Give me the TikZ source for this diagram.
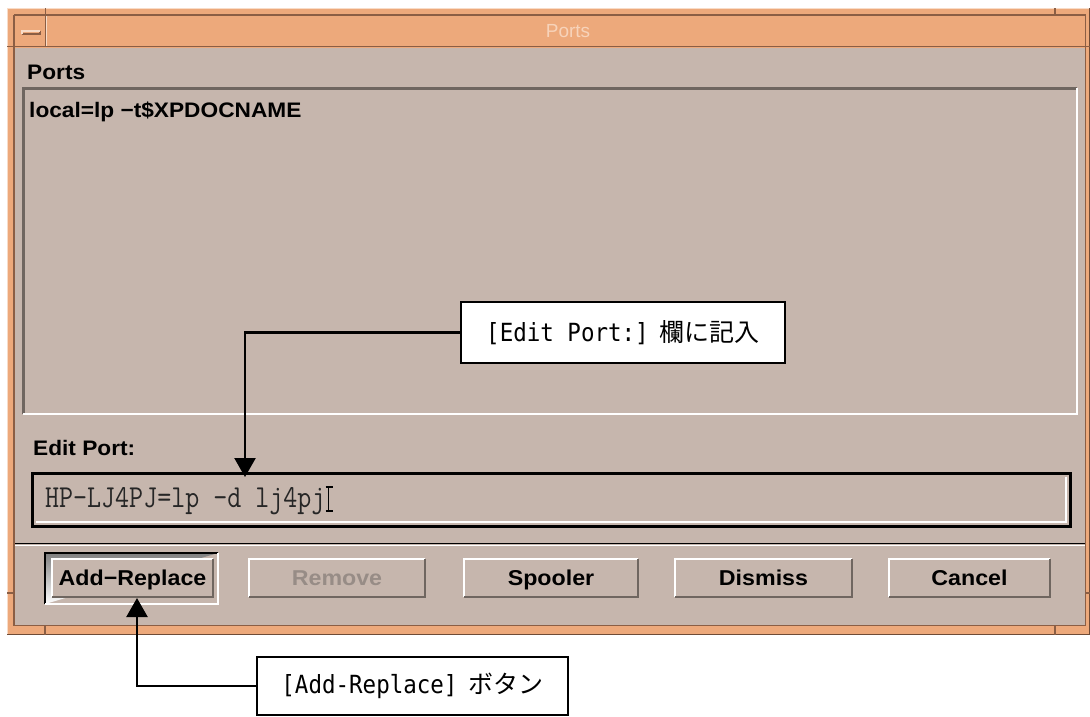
\documentclass[tikz,border=0pt]{standalone}
\usepackage{fontspec}
\setmainfont{Liberation Sans}
\newfontfamily\uifont[FakeStretch=1.08]{Liberation Sans}
\newfontfamily\fieldfont[FakeStretch=0.85]{Latin Modern Mono}
\newfontfamily\jpfont{Noto Sans CJK JP}
\newfontfamily\calloutmono[FakeStretch=0.9]{DejaVu Sans Mono}
\usetikzlibrary{arrows.meta}

\definecolor{panel}{HTML}{C6B6AD}
\definecolor{frameorange}{HTML}{EDA97B}
\definecolor{framedark}{HTML}{8B5E44}
\definecolor{framelight}{HTML}{F8DCC8}
\definecolor{shade}{HTML}{6F6660}
\definecolor{greytext}{HTML}{978C86}
\definecolor{titletext}{HTML}{F7D3BA}

\tikzset{
  hi/.style={draw=white, line width=2pt},
  lo/.style={draw=shade, line width=2pt},
  frline/.style={draw=framedark, line width=1.5pt},
  uilabel/.style={font=\uifont\bfseries\fontsize{21}{24}\selectfont, inner sep=0pt, anchor=base west},
  btn/.style={fill=panel, minimum height=38pt, inner sep=0pt, outer sep=0pt,
    text height=15pt, text depth=1pt, font=\uifont\bfseries\fontsize{21.5}{24}\selectfont, text=black},
  callout/.style={draw=black, line width=2pt, fill=white, inner sep=0pt, outer sep=0pt,
    font=\fontsize{25}{28}\selectfont},
  conn/.style={line width=2.4pt, -{Triangle[length=19pt,width=21pt]}},
}

\begin{document}
\begin{tikzpicture}[x=1pt, y=-1pt]
\useasboundingbox (0,0) rectangle (1090,716);
\clip (0,0) rectangle (1090,716);
\fill[white] (0,0) rectangle (1090,716);

% window frame
\fill[frameorange] (7,8) rectangle (1090,635);
\draw[framelight, line width=1.5pt] (7.5,635) -- (7.5,8.5) -- (1090,8.5);
\draw[frline] (14,15) -- (1085.5,15);
\draw[frline] (14,15) -- (14,626);
\draw[frline] (1085.5,15) -- (1085.5,626);
\draw[draw=framedark!80!black, line width=1.5pt] (7,634.3) -- (1090,634.3);
\draw[draw=framedark!80!black, line width=1.2pt] (1089.4,8) -- (1089.4,635);
% resize corner marks
\draw[frline] (45.5,8) -- (45.5,15) (1055,8) -- (1055,15)
  (45,626) -- (45,635) (1055,626) -- (1055,635)
  (7,46.5) -- (14,46.5) (7,593) -- (14,593)
  (1085,46.5) -- (1090,46.5) (1085,593) -- (1090,593);

% title bar
\draw[frline] (14,46.5) -- (1085.5,46.5);
\draw[frline] (45.5,15) -- (45.5,46.5);
\draw[framelight, line width=1pt] (46.5,16) -- (46.5,46);
\draw[framedark, line width=1.2pt] (22,34) -- (40,34) -- (40,31);
\draw[framelight, line width=1.2pt] (22,34) -- (22,31) -- (40,31);
\node[font=\fontsize{19}{22}\selectfont, text=titletext, inner sep=0pt] (titleTxt) at (568,31) {Ports};

% main panel
\fill[panel] (15,47.5) rectangle (1085,625.5);
\draw[framedark, line width=1pt] (15,625.5) -- (1085,625.5);

% port list
\node[uilabel] (portsLbl) at (27,79) {Ports};
\node[minimum width=1054pt, minimum height=326pt, inner sep=0pt, outer sep=0pt,
  anchor=north west] (list) at (23,88) {};
\draw[lo, line width=3pt] (list.south west) |- (list.north east);
\draw[hi] (list.north east) |- (list.south west);
\node[uilabel] (portEntry) at (29,117) {local=lp −t\$XPDOCNAME};

% edit field
\node[uilabel] (editLbl) at (33,455) {Edit Port:};
\node[draw=black, line width=3pt, minimum width=1038pt, minimum height=53pt,
  inner sep=0pt, outer sep=0pt, anchor=north west] (field) at (32,473) {};
\draw[white, line width=2pt] (36,521.5) -- (1065.5,521.5) -- (1065.5,477);
\node[anchor=base west, inner sep=0pt, text=black!85,
  font=\fieldfont\fontsize{32}{34}\selectfont] (fieldTxt) at (45,507) {HP-LJ4PJ=lp -d lj4pj};
% text cursor
\draw[line width=1.6pt] ([xshift=3pt]fieldTxt.base east) ++(0,4) -- ++(0,-24)
  ++(-3,0) -- ++(7,0) ++(-7,24) -- ++(7,0);

% separator
\draw[shade, line width=1.3pt] (15,543.5) -- (1085,543.5);
\draw[white, line width=1.3pt] (15,545.5) -- (1085,545.5);

% buttons
\draw[shade, line width=1.3pt] (45,604) |- (218,553);
\draw[white, line width=1.3pt] (218,553) |- (45,604);
\node[btn, minimum width=161pt] (addBtn) at (132.5,578) {Add−Replace};
\node[btn, minimum width=176pt, text=greytext] (remBtn) at (337,578) {Remove};
\node[btn, minimum width=174pt] (spoolBtn) at (551,578) {Spooler};
\node[btn, minimum width=177pt] (dismissBtn) at (763.5,578) {Dismiss};
\node[btn, minimum width=161pt] (cancelBtn) at (969.5,578) {Cancel};
\foreach \b in {addBtn,remBtn,spoolBtn,dismissBtn,cancelBtn}{
  \draw[hi] (\b.south west) |- (\b.north east);
  \draw[lo] (\b.north east) |- (\b.south west);
}

% callouts
\node[callout, minimum width=324pt, minimum height=61pt] (callA) at (623,332.5)
  {{\calloutmono [Edit Port:]}\hspace{11pt}{\jpfont 欄に記入}};
\node[callout, minimum width=311pt, minimum height=58pt] (callB) at (412.5,686)
  {{\calloutmono [Add-Replace]}\hspace{11pt}{\jpfont ボタン}};

\coordinate (editTip) at (245,477);
\coordinate (addTip) at (137,598);
\draw[conn] (callA.west) -| (editTip);
\draw[conn] (callB.west) -| (addTip);
\end{tikzpicture}
\end{document}
